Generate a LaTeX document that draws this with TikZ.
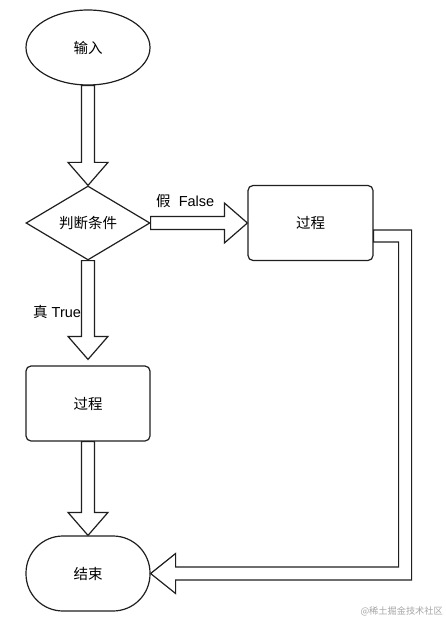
\documentclass[tikz,border=0pt]{standalone}
\usepackage{fontspec}
\setmainfont{Liberation Sans}
\newfontfamily\cjk{Noto Sans CJK SC}
\usetikzlibrary{shapes.geometric,calc}
\newcommand\hdown[2]{\draw[shapeline,fill=white] ($(#1)+(-6.5,0)$) -- ($(#2)+(-6.5,-23)$) -- ($(#2)+(-20,-23)$) -- (#2) -- ($(#2)+(20,-23)$) -- ($(#2)+(6.5,-23)$) -- ($(#1)+(6.5,0)$) -- cycle;}
\begin{document}
\begin{tikzpicture}[x=1pt,y=-1pt,
  every node/.style={font=\fontsize{14.5}{17}\selectfont\cjk, inner sep=0pt},
  shapeline/.style={draw=black!88, line width=1.2pt},
  box/.style={shapeline, rectangle, rounded corners=5pt, minimum width=125pt, minimum height=75pt},
  lbl/.style={font=\fontsize{14.5}{17}\selectfont, text=black}]
\fill[white] (0,0) rectangle (446,620);
\useasboundingbox (0,0) rectangle (446,620);

\node[shapeline, ellipse, minimum width=124pt, minimum height=75pt] (in) at (88,47.5) {输入};
\node[shapeline, diamond, minimum width=124pt, minimum height=74pt] (cond) at (88,223) {判断条件};
\node[box] (p1) at (310.5,223) {过程};
\node[box, minimum width=124pt] (p2) at (88,403.5) {过程};
\node[shapeline, rectangle, rounded corners=37pt, minimum width=124pt, minimum height=75pt] (end) at (88,573.5) {结束};

\coordinate (t2) at ($(p2.north)+(0,-6)$);
\hdown{in.south}{cond.north}
\hdown{cond.south}{t2}
\hdown{p2.south}{end.north}

\draw[shapeline, fill=white] ($(cond.east)+(0,-6.5)$) -- ($(p1.west)+(-23,-6.5)$) -- ($(p1.west)+(-23,-20)$) -- (p1.west) -- ($(p1.west)+(-23,20)$) -- ($(p1.west)+(-23,6.5)$) -- ($(cond.east)+(0,6.5)$) -- cycle;

\coordinate (bA) at ($(p1.east)+(0,7)$);
\coordinate (bB) at ($(p1.east)+(0,19)$);
\draw[shapeline, fill=white] (bA) -- ($(bA)+(38,0)$) |- ($(end.east)+(25,6.5)$) -- ($(end.east)+(25,20)$) -- (end.east) -- ($(end.east)+(25,-20)$) -- ($(end.east)+(25,-6.5)$) -| ($(bB)+(25,0)$) -- (bB) -- cycle;

\node[lbl, anchor=west] (lf) at (156,201) {{\cjk 假}\ \ False};
\node[lbl, anchor=west] (lt) at (33,311.5) {{\cjk 真} True};
\node[font=\fontsize{9.2}{11}\selectfont\cjk, text=black!35, anchor=east] (wm) at (443,611) {@稀土掘金技术社区};
\end{tikzpicture}
\end{document}
